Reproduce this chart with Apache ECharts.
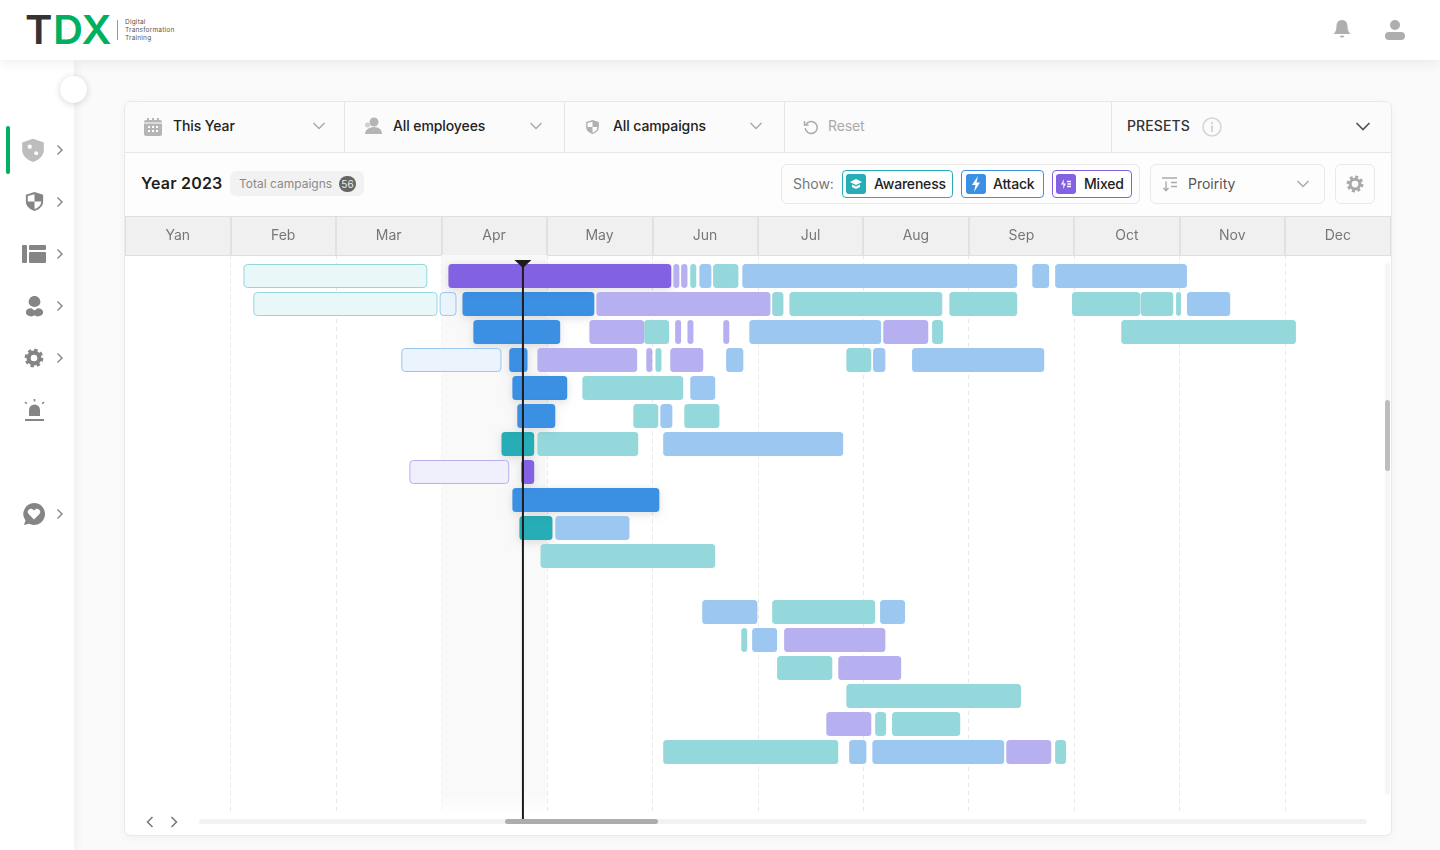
<!DOCTYPE html>
<html>
<head>
<meta charset="utf-8">
<title>TDX campaigns</title>
<script src="https://cdn.jsdelivr.net/npm/echarts@6/dist/echarts.min.js"></script>
<style>
  html, body { margin: 0; padding: 0; width: 1440px; height: 850px; overflow: hidden; background: #fafafa; font-family: Inter, "Noto Sans", sans-serif; color: #222; }
  .abs { position: absolute; white-space: nowrap; }
  svg { position: absolute; display: block; }
  #topbar { left: 0; top: 0; width: 1440px; height: 60px; background: #fff; box-shadow: 0 2px 12px rgba(40,40,70,.09); z-index: 3; }
  #sidebar { left: 0; top: 60px; width: 74px; height: 790px; background: #fff; box-shadow: 2px 0 8px rgba(60,60,110,.06); z-index: 2; }
  #toggle { left: 60px; top: 76px; width: 27px; height: 27px; border-radius: 50%; background: #fff; box-shadow: 0 1px 6px rgba(60,60,110,.22); z-index: 4; }
  #activeMark { left: 6px; top: 126px; width: 4px; height: 48px; border-radius: 2px; background: #00b060; z-index: 4; }
  #card { left: 124px; top: 101px; width: 1266px; height: 733px; border: 1px solid #e9e9e9; border-radius: 7px; background: #fff; box-shadow: 0 2px 8px rgba(0,0,0,.04); }
  #filters { left: 125px; top: 102px; width: 1266px; height: 50px; background: #fbfbfb; border-bottom: 1px solid #e6e6e6; border-radius: 7px 7px 0 0; }
  #toolbar { left: 125px; top: 153px; width: 1266px; height: 63px; background: #fdfdfd; }
  #monthHead { left: 125px; top: 216px; width: 1266px; height: 38px; background: #f0f0f0; border-top: 1px solid #dedede; }
  .sep { width: 1px; top: 102px; height: 50px; background: #e6e6e6; }
  .filter { font-size: 14px; font-weight: 500; letter-spacing: -.1px; top: 117px; line-height: 17px; color: #222; }
  .box { border: 1px solid #e9e9e9; border-radius: 6px; box-sizing: border-box; background: #fdfdfd; }
  .pick { top: 170px; height: 28px; border-radius: 4px; box-sizing: border-box; background: #fff; border: 1px solid; }
  .pickText { top: 175px; font-size: 14px; font-weight: 500; line-height: 17px; letter-spacing: -.2px; color: #222; }
  .chip { top: 174px; width: 20px; height: 20px; border-radius: 3px; }
  #chart { left: 125px; top: 217px; width: 1266px; height: 618px; }
  .track { background: #f2f2f2; border-radius: 3px; }
  .thumb { background: #adadad; border-radius: 3px; }
</style>
</head>
<body>

<div class="abs" id="topbar">
  <div class="abs" style="left:25px;top:7px;font-size:40px;font-weight:600;line-height:46px;letter-spacing:.5px;transform:scaleX(1.04);transform-origin:left;"><span style="color:#333">T</span><span style="color:#00b060">DX</span></div>
  <div class="abs" style="left:117px;top:20px;width:1px;height:20px;background:#999"></div>
  <div class="abs" style="left:125px;top:18px;font-size:6.5px;line-height:8px;color:#555;letter-spacing:.2px;">Digital<br>Transformation<br>Training</div>
  <svg style="left:1331px;top:18px" width="22" height="22" viewBox="0 0 22 22"><path d="M11 2c-3.600 0-5.500 2.800-5.500 6 0 4-1 6-3 8h17c-2-2-3-4-3-8 0-3.200-1.900-6-5.500-6z" fill="#aeaeae"/><ellipse cx="11" cy="18.500" rx="2.200" ry="1" fill="#aeaeae"/></svg>
  <svg style="left:1383px;top:18px" width="24" height="24" viewBox="0 0 24 24"><circle cx="12" cy="7" r="5" fill="#aeaeae"/><rect x="2" y="14" width="20" height="8" rx="4" fill="#aeaeae"/></svg>
</div>

<div class="abs" id="sidebar"></div>
<div class="abs" id="toggle"></div>
<div class="abs" id="activeMark"></div>

<div style="position:absolute;left:0;top:0;z-index:4;">
  <!-- sidebar icons -->
  <svg style="left:20px;top:137px" width="26" height="26" viewBox="0 0 24 24"><path d="M12 1.500 22 5v7c0 5-4 9-10 11C6 21 2 17 2 12V5z" fill="#bdbdbd"/><circle cx="9" cy="9" r="2" fill="#fff"/><circle cx="15" cy="15" r="1.800" fill="#fff"/></svg>
  <svg style="left:23px;top:190px" width="23" height="23" viewBox="0 0 24 24"><path d="M12 2 21 5v7c0 5-4 8-9 10-5-2-9-5-9-10V5z" fill="#858585"/><path d="M12 4.500V12H5V6.300zM12 12h7c0 4-3 6.500-7 8z" fill="#fff"/></svg>
  <svg style="left:22px;top:243px" width="25" height="22" viewBox="0 0 25 22"><rect x="0" y="2" width="5" height="18" rx="1" fill="#858585"/><rect x="7" y="2" width="17" height="5" rx="1" fill="#858585"/><rect x="7" y="9" width="17" height="11" rx="1" fill="#858585"/></svg>
  <svg style="left:25px;top:294px" width="19" height="24" viewBox="0 0 21 24"><path d="M10.500 1c3.800 0 6.500 3 6.500 6.500 0 3-3 5.500-6.500 5.500S4 10.500 4 7.500C4 4 6.700 1 10.500 1z" fill="#858585"/><path d="M1 19c0-3 3-4.500 6-4.500l3.500 2.500 3.500-2.500c3 0 6 1.500 6 4.500 0 3-3 4.500-6 4.500-1.500 0-3-.5-3.500-1.500-.5 1-2 1.500-3.500 1.500-3 0-6-1.500-6-4.500z" fill="#858585"/></svg>
  <svg style="left:24px;top:348px" width="20" height="20" viewBox="0 0 24 24"><circle cx="12" cy="12" r="6.500" fill="none" stroke="#858585" stroke-width="5"/><circle cx="12" cy="12" r="9.500" fill="none" stroke="#858585" stroke-width="3.500" stroke-dasharray="4 3.460"/></svg>
  <svg style="left:23px;top:399px" width="23" height="24" viewBox="0 0 23 24"><path d="M6 17v-6a5.500 5.500 0 0 1 11 0v6z" fill="#858585"/><rect x="2" y="20" width="19" height="2" fill="#858585"/><path d="M11.500 0v2.500M2 3l1.800 1.800M21 3l-1.800 1.800" stroke="#858585" stroke-width="1.600"/></svg>
  <svg style="left:22px;top:502px" width="24" height="24" viewBox="0 0 24 24"><path d="M12 1a11 11 0 1 1-5 20.800L2 23l1.500-4.500A11 11 0 0 1 12 1z" fill="#858585"/><path d="M12 17.500 6.800 12.200a3.100 3.100 0 0 1 4.400-4.400l.8.800.8-.8a3.100 3.100 0 0 1 4.400 4.400z" fill="#fff"/></svg>
  <!-- sidebar chevrons -->
  <svg style="left:55px;top:144px" width="10" height="12" viewBox="0 0 10 12"><path d="M2.500 1.500 7 6l-4.500 4.500" fill="none" stroke="#858585" stroke-width="1.400"/></svg>
  <svg style="left:55px;top:196px" width="10" height="12" viewBox="0 0 10 12"><path d="M2.500 1.500 7 6l-4.500 4.500" fill="none" stroke="#858585" stroke-width="1.400"/></svg>
  <svg style="left:55px;top:248px" width="10" height="12" viewBox="0 0 10 12"><path d="M2.500 1.500 7 6l-4.500 4.500" fill="none" stroke="#858585" stroke-width="1.400"/></svg>
  <svg style="left:55px;top:300px" width="10" height="12" viewBox="0 0 10 12"><path d="M2.500 1.500 7 6l-4.500 4.500" fill="none" stroke="#858585" stroke-width="1.400"/></svg>
  <svg style="left:55px;top:352px" width="10" height="12" viewBox="0 0 10 12"><path d="M2.500 1.500 7 6l-4.500 4.500" fill="none" stroke="#858585" stroke-width="1.400"/></svg>
  <svg style="left:55px;top:508px" width="10" height="12" viewBox="0 0 10 12"><path d="M2.500 1.500 7 6l-4.500 4.500" fill="none" stroke="#858585" stroke-width="1.400"/></svg>
</div>

<div class="abs" id="card"></div>
<div class="abs" id="filters"></div>
<div class="abs" id="toolbar"></div>
<div class="abs" id="monthHead"></div>
<div class="abs sep" style="left:344px"></div>
<div class="abs sep" style="left:564px"></div>
<div class="abs sep" style="left:784px"></div>
<div class="abs sep" style="left:1111px"></div>

<!-- filter row -->
<svg style="left:143px;top:117px" width="20" height="20" viewBox="0 0 20 20"><rect x="1" y="3" width="18" height="16" rx="2" fill="#b5b5b5"/><path d="M5 1v4M10 1v4M15 1v4" stroke="#b5b5b5" stroke-width="2"/><rect x="1" y="5.500" width="18" height="1" fill="#fff"/><g fill="#fff"><rect x="5" y="9" width="2" height="2"/><rect x="9" y="9" width="2" height="2"/><rect x="13" y="9" width="2" height="2"/><rect x="5" y="13" width="2" height="2"/><rect x="9" y="13" width="2" height="2"/><rect x="13" y="13" width="2" height="2"/></g></svg>
<div class="abs filter" style="left:173px">This Year</div>
<svg style="left:312px;top:121px" width="14" height="10" viewBox="0 0 14 10"><path d="M1.500 2 7 7.500 12.500 2" fill="none" stroke="#aaa" stroke-width="1.500"/></svg>
<svg style="left:363px;top:116px" width="20" height="20" viewBox="0 0 20 20"><circle cx="11" cy="6" r="4.500" fill="#b5b5b5"/><path d="M2 18c0-4 4-7 9-7s8 3 8 7z" fill="#b5b5b5"/><circle cx="4.500" cy="9" r="2.500" fill="#cfcfcf"/></svg>
<div class="abs filter" style="left:393px">All employees</div>
<svg style="left:529px;top:121px" width="14" height="10" viewBox="0 0 14 10"><path d="M1.500 2 7 7.500 12.500 2" fill="none" stroke="#aaa" stroke-width="1.500"/></svg>
<svg style="left:584px;top:118px" width="17" height="18" viewBox="0 0 24 24"><path d="M12 2 21 5v7c0 5-4 8-9 10-5-2-9-5-9-10V5z" fill="#b0b0b0"/><path d="M12 4.500V12H5V6.300zM12 12h7c0 4-3 6.500-7 8z" fill="#fff"/></svg>
<div class="abs filter" style="left:613px">All campaigns</div>
<svg style="left:749px;top:121px" width="14" height="10" viewBox="0 0 14 10"><path d="M1.500 2 7 7.500 12.500 2" fill="none" stroke="#aaa" stroke-width="1.500"/></svg>
<svg style="left:803px;top:119px" width="16" height="16" viewBox="0 0 16 16"><path d="M3 5.500A6 6 0 1 1 2.200 9" fill="none" stroke="#aaa" stroke-width="1.500"/><path d="M1.500 2v4h4" fill="none" stroke="#aaa" stroke-width="1.500"/></svg>
<div class="abs filter" style="left:828px;color:#aaa;font-weight:400">Reset</div>
<div class="abs filter" style="left:1127px;color:#333;letter-spacing:.1px">PRESETS</div>
<svg style="left:1202px;top:117px" width="20" height="20" viewBox="0 0 20 20"><circle cx="10" cy="10" r="9" fill="none" stroke="#d5d5d5" stroke-width="1.500"/><circle cx="10" cy="6" r="1.200" fill="#d5d5d5"/><rect x="9" y="8.500" width="2" height="6.500" fill="#d5d5d5"/></svg>
<svg style="left:1355px;top:121px" width="16" height="11" viewBox="0 0 16 11"><path d="M1.500 2 8 8.500 14.500 2" fill="none" stroke="#555" stroke-width="1.700"/></svg>

<!-- toolbar row -->
<div class="abs" style="left:141px;top:173px;font-size:16px;font-weight:600;letter-spacing:.2px;line-height:21px;color:#1e1e1e">Year 2023</div>
<div class="abs" style="left:230px;top:171px;width:134px;height:25px;background:#f2f2f2;border-radius:6px"></div>
<div class="abs" style="left:239px;top:176px;font-size:12px;line-height:16px;color:#8a8a8a">Total campaigns</div>
<div class="abs" style="left:339px;top:176px;width:17px;height:16px;border-radius:8px;background:#666;color:#eee;font-size:10px;line-height:16px;text-align:center">56</div>

<div class="abs box" style="left:781px;top:164px;width:359px;height:40px"></div>
<div class="abs" style="left:793px;top:175px;font-size:14px;line-height:17px;color:#777">Show:</div>
<div class="abs pick" style="left:842px;width:111px;border-color:#27adb5"></div>
<div class="abs chip" style="left:846px;background:#27adb5"><svg style="left:3px;top:3px" width="14" height="14" viewBox="0 0 14 14"><path d="M7 2 13 5 7 8 1 5z" fill="#fff"/><path d="M3 7.500v2.500l4 2 4-2V7.500L7 9.500z" fill="#fff"/></svg></div>
<div class="abs pickText" style="left:874px">Awareness</div>
<div class="abs pick" style="left:961px;width:83px;border-color:#3b90e3"></div>
<div class="abs chip" style="left:966px;background:#3b90e3"><svg style="left:3px;top:2px" width="14" height="16" viewBox="0 0 14 16"><path d="M9 0 3 9h3.500L5 16l6-9.500H7.500z" fill="#fff"/></svg></div>
<div class="abs pickText" style="left:993px">Attack</div>
<div class="abs pick" style="left:1052px;width:80px;border-color:#8262e2"></div>
<div class="abs chip" style="left:1056px;background:#8262e2"><svg style="left:3px;top:3px" width="14" height="14" viewBox="0 0 14 14"><path d="M5 2 2 7.500h2.500L4 12l3-5.500H4.500z" fill="#fff"/><path d="M8 4.500h4M8.500 7h3.500M8 9.500h4" stroke="#fff" stroke-width="1.300"/></svg></div>
<div class="abs pickText" style="left:1084px">Mixed</div>

<div class="abs box" style="left:1150px;top:164px;width:175px;height:40px"></div>
<svg style="left:1161px;top:177px" width="17" height="15" viewBox="0 0 17 15"><path d="M1 1h15M10 5.500h6M10 9.500h6" stroke="#aaa" stroke-width="1.400"/><path d="M5 4.500v9M2.500 11l2.500 2.800L7.500 11" fill="none" stroke="#aaa" stroke-width="1.400"/></svg>
<div class="abs" style="left:1188px;top:175px;font-size:14px;line-height:17px;color:#555">Proirity</div>
<svg style="left:1296px;top:179px" width="14" height="10" viewBox="0 0 14 10"><path d="M1.500 2 7 7.500 12.500 2" fill="none" stroke="#aaa" stroke-width="1.500"/></svg>
<div class="abs box" style="left:1335px;top:164px;width:40px;height:40px"></div>
<svg style="left:1346px;top:175px" width="18" height="18" viewBox="0 0 24 24"><circle cx="12" cy="12" r="6.500" fill="none" stroke="#a9a9a9" stroke-width="4"/><circle cx="12" cy="12" r="9.500" fill="none" stroke="#a9a9a9" stroke-width="3.500" stroke-dasharray="4 3.460"/></svg>

<div class="abs" id="chart"></div>

<!-- scrollbars -->
<div class="abs track" style="left:1385px;top:263px;width:5px;height:532px;background:#f6f6f6"></div>
<div class="abs thumb" style="left:1385px;top:400px;width:5px;height:71px;background:#bdbdbd"></div>
<svg style="left:145px;top:816px" width="10" height="12" viewBox="0 0 10 12"><path d="M7.500 1 2.500 6l5 5" fill="none" stroke="#777" stroke-width="1.500"/></svg>
<svg style="left:169px;top:816px" width="10" height="12" viewBox="0 0 10 12"><path d="M2.500 1 7.500 6l-5 5" fill="none" stroke="#777" stroke-width="1.500"/></svg>
<div class="abs track" style="left:199px;top:819px;width:1168px;height:5px"></div>
<div class="abs thumb" style="left:505px;top:819px;width:153px;height:5px"></div>

<script type="text/javascript">
    // month columns are equally wide in the picture, so the axis counts 30 days per month
    var months = ['Yan', 'Feb', 'Mar', 'Apr', 'May', 'Jun', 'Jul', 'Aug', 'Sep', 'Oct', 'Nov', 'Dec'];
    var today = 113.2;
    var todayMonth = 3;

    // [row, start day, end day, status]
    var awarenessBars = [
        [0, 33.7, 86.0, 'past'], [0, 160.8, 162.5, 'next'], [0, 167.3, 174.5, 'next'],
        [1, 36.5, 88.9, 'past'], [1, 184.1, 187.3, 'next'], [1, 189.0, 232.5, 'next'], [1, 234.5, 253.8, 'next'],
        [1, 269.4, 288.8, 'next'], [1, 288.9, 298.2, 'next'], [1, 299.0, 300.4, 'next'],
        [2, 147.7, 154.8, 'next'], [2, 229.6, 232.7, 'next'], [2, 283.4, 333.1, 'next'],
        [3, 150.9, 152.6, 'next'], [3, 205.2, 212.3, 'next'],
        [4, 130.1, 158.8, 'next'],
        [5, 144.6, 151.7, 'next'], [5, 159.1, 169.1, 'next'],
        [6, 107.1, 116.4, 'live'], [6, 117.3, 146.0, 'next'],
        [9, 112.2, 121.6, 'live'],
        [10, 118.2, 167.9, 'next'],
        [12, 184.1, 213.4, 'next'],
        [13, 175.3, 177.0, 'next'],
        [14, 185.5, 201.2, 'next'],
        [15, 205.2, 254.9, 'next'],
        [16, 213.4, 216.5, 'next'], [16, 218.2, 237.6, 'next'],
        [17, 153.1, 202.9, 'next'], [17, 264.6, 267.7, 'next']
    ];
    var attackBars = [
        [0, 163.4, 166.8, 'next'], [0, 175.6, 253.8, 'next'], [0, 258.1, 262.9, 'next'], [0, 264.6, 302.1, 'next'],
        [1, 89.5, 94.3, 'past'], [1, 96.0, 133.5, 'live'], [1, 302.1, 314.4, 'next'],
        [2, 99.1, 123.8, 'live'], [2, 177.6, 215.1, 'next'],
        [3, 78.6, 107.1, 'past'], [3, 109.3, 114.5, 'live'], [3, 171.0, 175.9, 'next'], [3, 212.8, 216.3, 'next'], [3, 223.9, 261.5, 'next'],
        [4, 110.2, 125.8, 'live'], [4, 160.8, 167.9, 'next'],
        [5, 111.6, 122.4, 'live'], [5, 152.3, 155.7, 'next'],
        [6, 153.1, 204.3, 'next'],
        [8, 110.2, 152.0, 'live'],
        [9, 122.4, 143.5, 'next'],
        [12, 164.2, 179.9, 'next'], [12, 214.8, 221.9, 'next'],
        [13, 178.4, 185.5, 'next'],
        [17, 206.0, 210.9, 'next'], [17, 212.6, 250.1, 'next']
    ];
    var mixedBars = [
        [0, 92.0, 155.4, 'live'], [0, 156.0, 157.7, 'next'], [0, 158.2, 160.0, 'next'],
        [1, 134.1, 183.6, 'next'],
        [2, 132.1, 147.7, 'next'], [2, 156.5, 158.2, 'next'], [2, 160.0, 161.7, 'next'], [2, 170.2, 171.9, 'next'], [2, 215.7, 228.5, 'next'],
        [3, 117.3, 145.7, 'next'], [3, 148.3, 150.0, 'next'], [3, 155.1, 164.5, 'next'],
        [7, 80.9, 109.3, 'past'], [7, 112.7, 116.4, 'live'],
        [13, 187.5, 216.3, 'next'],
        [14, 202.9, 220.8, 'next'],
        [16, 199.5, 212.3, 'next'],
        [17, 250.7, 263.5, 'next']
    ];

    var awarenessColors = { past: '#e9f7f8', live: '#27adb5', next: '#95d8dc' };
    var attackColors = { past: '#ebf3fd', live: '#3b90e3', next: '#9bc7f0' };
    var mixedColors = { past: '#f0effc', live: '#8262e2', next: '#b6b0f0' };

    var myChart = echarts.init(document.getElementById('chart'));

    function barSeries(name, bars, colors) {
        return {
            name: name,
            type: 'custom',
            xAxisIndex: 1,
            clip: false,
            z: 5,
            encode: { x: [1, 2], y: 0 },
            data: bars,
            renderItem: function (params, api) {
                var start = api.coord([api.value(1), api.value(0)]);
                var end = api.coord([api.value(2), api.value(0)]);
                var h = api.size([0, 1])[1] * 6 / 7;
                var status = bars[params.dataIndex][3];
                var style = { fill: colors[status] };
                var inset = 0;
                if (status == 'past') {
                    style.stroke = colors.next;
                    style.lineWidth = 1;
                    inset = 0.5;
                } else if (status == 'live') {
                    style.shadowBlur = 9;
                    style.shadowOffsetY = 2;
                    style.shadowColor = 'rgba(0,0,0,0.12)';
                }
                return {
                    type: 'rect',
                    shape: {
                        x: start[0] + inset,
                        y: start[1] - h / 2 + inset,
                        width: end[0] - start[0] - inset * 2,
                        height: h - inset * 2,
                        r: 3.5
                    },
                    style: style
                };
            }
        };
    }

    var option = {
        animation: false,
        grid: { left: -0.5, right: 0.5, top: 38, height: 558 },
        xAxis: [
            {
                type: 'category',
                position: 'top',
                data: months,
                axisLine: { onZero: false, lineStyle: { color: '#dedede' } },
                axisTick: { show: true, alignWithLabel: false, length: 38, lineStyle: { color: '#dcdcdc', width: 1.5 } },
                axisLabel: { color: '#777', fontSize: 14, fontFamily: 'Inter', margin: 12 }
            },
            {
                type: 'value',
                position: 'top',
                min: 0,
                max: 360,
                interval: 30,
                axisLine: { show: false },
                axisTick: { show: false },
                axisLabel: { show: false },
                splitLine: { show: true, showMinLine: false, showMaxLine: false, lineStyle: { color: '#e7e7e7', type: [4, 4] } }
            }
        ],
        yAxis: {
            type: 'value',
            inverse: true,
            min: -0.75,
            max: 19.18,
            show: false,
            splitLine: { show: false }
        },
        series: [
            {
                // highlighted current month and the "today" marker
                type: 'custom',
                xAxisIndex: 1,
                clip: false,
                z: 1,
                data: [[todayMonth * 30, (todayMonth + 1) * 30]],
                renderItem: function (params, api) {
                    var a = api.coord([api.value(0), -0.75]);
                    var b = api.coord([api.value(1), 19.18]);
                    return {
                        type: 'rect',
                        shape: { x: a[0], y: a[1], width: b[0] - a[0], height: b[1] - a[1] },
                        style: {
                            fill: new echarts.graphic.LinearGradient(0, 0, 0, 1, [
                                { offset: 0, color: '#f9f9f9' },
                                { offset: 0.97, color: '#f9f9f9' },
                                { offset: 1, color: '#ffffff' }
                            ])
                        }
                    };
                }
            },
            barSeries('Awareness', awarenessBars, awarenessColors),
            barSeries('Attack', attackBars, attackColors),
            barSeries('Mixed', mixedBars, mixedColors),
            {
                type: 'custom',
                xAxisIndex: 1,
                clip: false,
                z: 10,
                data: [[today]],
                renderItem: function (params, api) {
                    var top = api.coord([api.value(0), -0.571]);
                    var bottom = api.coord([api.value(0), 19.43]);
                    return {
                        type: 'group',
                        children: [
                            {
                                type: 'line',
                                shape: { x1: top[0], y1: top[1], x2: bottom[0], y2: bottom[1] },
                                style: { stroke: '#1c1c1c', lineWidth: 2 }
                            },
                            {
                                type: 'polygon',
                                shape: { points: [[top[0] - 8.5, top[1]], [top[0] + 8.5, top[1]], [top[0], top[1] + 8]] },
                                style: { fill: '#1c1c1c' }
                            }
                        ]
                    };
                }
            }
        ]
    };
    myChart.setOption(option);
</script>
</body>
</html>
